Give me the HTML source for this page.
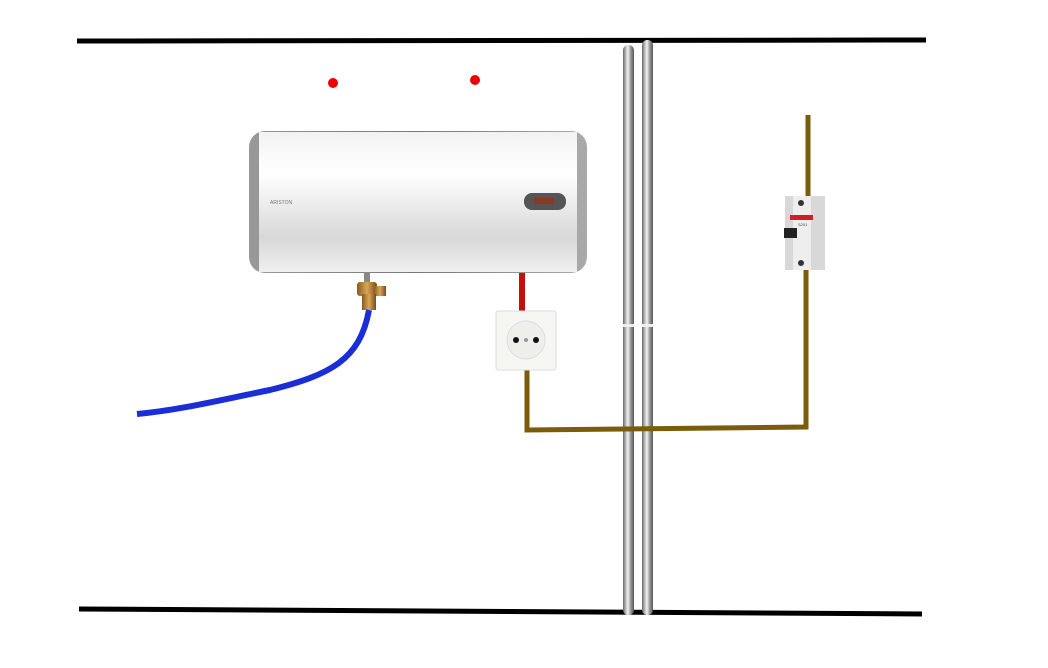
<!DOCTYPE html>
<html><head><meta charset="utf-8"><style>
html,body{margin:0;padding:0;background:#fff;width:1048px;height:668px;overflow:hidden}
</style></head><body>
<svg width="1048" height="668" viewBox="0 0 1048 668" xmlns="http://www.w3.org/2000/svg">
<defs>
<linearGradient id="tank" x1="0" y1="0" x2="0" y2="1">
<stop offset="0" stop-color="#f2f2f2"/><stop offset="0.3" stop-color="#ffffff"/><stop offset="0.75" stop-color="#d8d8d8"/><stop offset="1" stop-color="#efefef"/></linearGradient>
<linearGradient id="cap" x1="0" y1="0" x2="1" y2="0">
<stop offset="0" stop-color="#999"/><stop offset="0.5" stop-color="#777"/><stop offset="1" stop-color="#aaa"/></linearGradient>
<linearGradient id="pipe" x1="0" y1="0" x2="1" y2="0">
<stop offset="0" stop-color="#666"/><stop offset="0.25" stop-color="#bbb"/><stop offset="0.45" stop-color="#f2f2f2"/><stop offset="0.7" stop-color="#999"/><stop offset="1" stop-color="#555"/></linearGradient>
<linearGradient id="brass" x1="0" y1="0" x2="1" y2="0">
<stop offset="0" stop-color="#8a5a20"/><stop offset="0.5" stop-color="#d9a55a"/><stop offset="1" stop-color="#7a4a18"/></linearGradient>
</defs>
<line x1="77" y1="41" x2="926" y2="40" stroke="#000" stroke-width="5"/>
<line x1="79" y1="609" x2="922" y2="614" stroke="#000" stroke-width="5"/>
<circle cx="333" cy="83" r="5" fill="#e00"/>
<circle cx="475" cy="80" r="5" fill="#e00"/>
<!-- pipes -->
<rect x="623" y="45" width="11" height="570" rx="5" fill="url(#pipe)"/>
<rect x="642" y="40" width="11" height="575" rx="5" fill="url(#pipe)"/>
<rect x="623" y="324" width="11" height="3" fill="#eee"/>
<rect x="642" y="324" width="11" height="3" fill="#eee"/>
<!-- brown wires -->
<polyline points="808,115 808,200" fill="none" stroke="#7a5c0a" stroke-width="5"/>
<polyline points="527,368 527,430 806,427 806,270" fill="none" stroke="#7a5c0a" stroke-width="5"/>
<line x1="522" y1="273" x2="522" y2="312" stroke="#c01010" stroke-width="6"/>
<!-- tank -->
<rect x="249" y="131" width="338" height="142" rx="16" fill="url(#cap)"/>
<rect x="259" y="132" width="318" height="140" fill="url(#tank)"/>
<text x="270" y="204" font-family="Liberation Sans, sans-serif" font-size="5" fill="#777">ARISTON</text>
<rect x="524" y="193" width="42" height="17" rx="8" fill="#555"/>
<rect x="534" y="198" width="20" height="6" fill="#8a3a20"/>
<!-- valve -->
<rect x="364" y="272" width="6" height="12" fill="#888"/>
<rect x="357" y="282" width="20" height="14" rx="3" fill="url(#brass)"/>
<rect x="374" y="286" width="12" height="10" fill="url(#brass)"/>
<rect x="362" y="294" width="14" height="16" fill="url(#brass)"/>
<path d="M369,310 C360,360 330,375 270,390 C220,400 180,410 137,414" fill="none" stroke="#1a2ed8" stroke-width="6"/>
<!-- socket -->
<rect x="496" y="311" width="60" height="59" rx="2" fill="#f6f6f2" stroke="#ddd"/>
<circle cx="526" cy="340" r="19" fill="#eeeeea" stroke="#ddd"/>
<circle cx="516" cy="340" r="3" fill="#111"/>
<circle cx="536" cy="340" r="3" fill="#111"/>
<circle cx="526" cy="340" r="2" fill="#999"/>
<!-- breaker -->
<rect x="785" y="196" width="40" height="74" fill="#d8d8d8"/>
<rect x="793" y="196" width="18" height="74" fill="#eee"/>
<rect x="790" y="215" width="23" height="5" fill="#d02020"/>
<rect x="784" y="228" width="13" height="10" fill="#222"/>
<circle cx="801" cy="203" r="3" fill="#333"/>
<circle cx="801" cy="263" r="3" fill="#333"/>
<text x="798" y="226" font-family="Liberation Sans, sans-serif" font-size="4" fill="#444">S201</text>
</svg>
</body></html>
